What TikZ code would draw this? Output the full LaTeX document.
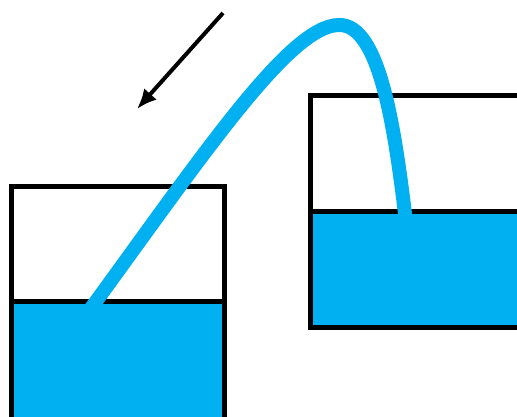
\documentclass[tikz,border=0pt]{standalone}
\usetikzlibrary{arrows.meta}
\definecolor{water}{RGB}{0,176,240}

\begin{document}
\begin{tikzpicture}[
    x=1pt, y=-1pt,
    tank/.style={draw=black, line width=5pt},
    liquid/.style={fill=water},
    hose/.style={draw=water, line width=14pt},
    flow/.style={-{Latex[length=20pt, width=17pt]}, line width=4pt, black}
]
\useasboundingbox (0,0) rectangle (517,416);
\clip (0,0) rectangle (517,416);

% Left tank
\fill[liquid] (11,301) rectangle (224,430);
\draw[tank] (11,430) -- (11,186) -- (224,186) -- (224,430);
\draw[tank] (11,301) -- (224,301);

% Right tank
\fill[liquid] (310,211) rectangle (530,327);
\draw[tank] (530,95) -- (310,95) -- (310,327) -- (530,327);
\draw[tank] (310,211) -- (530,211);

% Siphon hose
\coordinate (inlet) at (89,311);
\coordinate (crest) at (339,25);
\coordinate (outlet) at (406,222);
\draw[hose] (inlet) .. controls (203,155) and (290,25) .. (crest)
    .. controls (380,24) and (395,130) .. (outlet);

% Flow direction
\coordinate (flowtail) at (223,13);
\coordinate (flowtip) at (137,109);
\draw[flow] (flowtail) -- (flowtip);

\end{tikzpicture}
\end{document}
